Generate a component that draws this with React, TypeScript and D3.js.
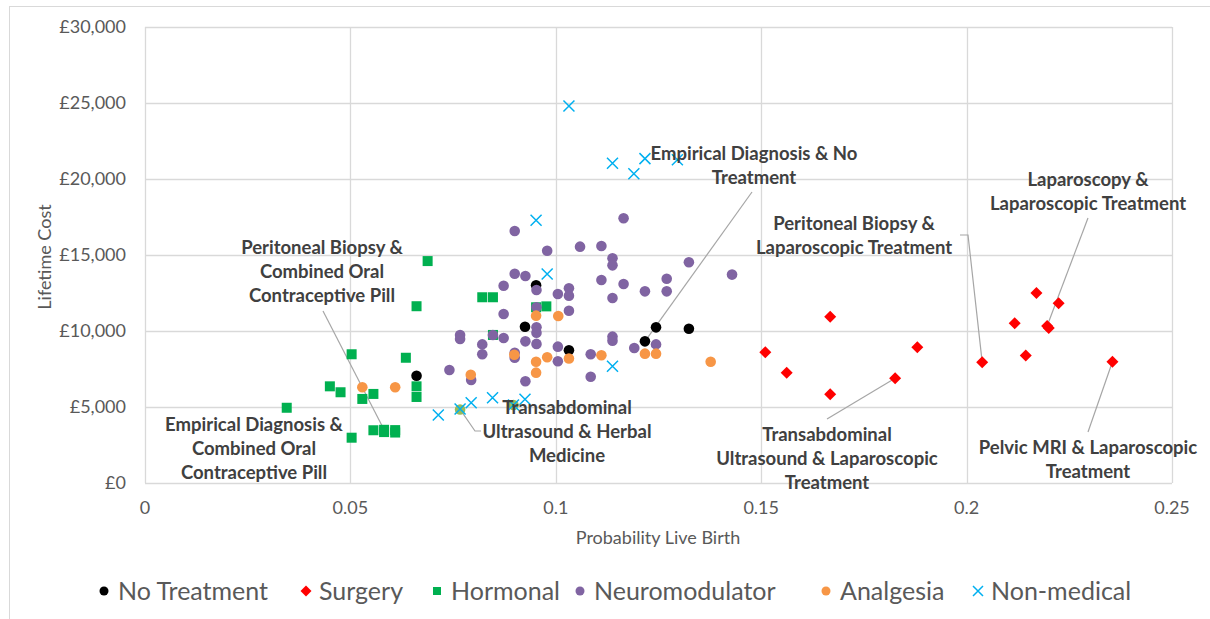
import React from "react";
import * as d3 from "d3";

type Pt = [number, number];

const noTreatment: Pt[] = [
  [0.0661, 7060], [0.0925, 10280], [0.0952, 13010], [0.1032, 8730],
  [0.1217, 9320], [0.1244, 10240], [0.1324, 10150],
];

const surgery: Pt[] = [
  [0.151, 8600], [0.1562, 7260], [0.1668, 10940], [0.1668, 5840],
  [0.1826, 6890], [0.188, 8930], [0.2038, 7940], [0.2117, 10510],
  [0.2144, 8380], [0.217, 12500], [0.2196, 10330], [0.22, 10200],
  [0.2224, 11820], [0.2355, 7980],
];

const hormonal: Pt[] = [
  [0.0345, 4950], [0.045, 6360], [0.0476, 5970], [0.0503, 8470],
  [0.0503, 2980], [0.0529, 5530], [0.0556, 5860], [0.0556, 3470],
  [0.0582, 3500], [0.0582, 3350], [0.0609, 3480], [0.0609, 3320],
  [0.0635, 8240], [0.0661, 6360], [0.0661, 5660], [0.0661, 11630],
  [0.0688, 14600], [0.0821, 12220], [0.0847, 12220], [0.0847, 9740],
  [0.0952, 11560], [0.0977, 11620],
];

const neuromodulator: Pt[] = [
  [0.09, 16580], [0.0979, 15280], [0.09, 13770], [0.0926, 13620],
  [0.0873, 12980], [0.0953, 12700], [0.1005, 12430], [0.1032, 12810],
  [0.1032, 12320], [0.0953, 11560], [0.1032, 11330], [0.0873, 11120],
  [0.0953, 10240], [0.0953, 9890], [0.0767, 9740], [0.0767, 9470],
  [0.0847, 9740], [0.0873, 9540], [0.0821, 9120], [0.0926, 9320],
  [0.0953, 9150], [0.1005, 8970], [0.0821, 8470], [0.09, 8570],
  [0.09, 8240], [0.1005, 8010], [0.0741, 7430], [0.0794, 6780],
  [0.0926, 6690], [0.1165, 17420], [0.1059, 15550], [0.1111, 15590],
  [0.1138, 14780], [0.1138, 14320], [0.1324, 14520], [0.1111, 13360],
  [0.1165, 13090], [0.127, 13440], [0.1217, 12610], [0.127, 12610],
  [0.1138, 12170], [0.1138, 9630], [0.1138, 9360], [0.1191, 8880],
  [0.1244, 9120], [0.1085, 8470], [0.1085, 6990], [0.1429, 13710],
];

const analgesia: Pt[] = [
  [0.0529, 6300], [0.0609, 6300], [0.0793, 7120], [0.0899, 8440],
  [0.0952, 11010], [0.1006, 10990], [0.0952, 7980], [0.0979, 8270],
  [0.0952, 7260], [0.1032, 8190], [0.1111, 8400], [0.1217, 8510],
  [0.1244, 8510], [0.1377, 7980],
];

const highlighted: Pt[] = [
  [0.0767, 4840], [0.0897, 5130],
];

const nonMedical: Pt[] = [
  [0.1032, 24800], [0.0952, 17280], [0.0979, 13750], [0.1138, 21030],
  [0.119, 20350], [0.1217, 21340], [0.1296, 21270], [0.1138, 7680],
  [0.0714, 4470], [0.0767, 4870], [0.0794, 5280], [0.0846, 5610],
  [0.0897, 5130], [0.0925, 5510],
];

const xTicks = [0, 0.05, 0.1, 0.15, 0.2, 0.25];
const yTicks = [0, 5000, 10000, 15000, 20000, 25000, 30000];

const legendNames = ["No Treatment", "Surgery", "Hormonal", "Neuromodulator", "Analgesia", "Non-medical"];

type Ann = {
  lines: string[];
  cx: number;
  y0: number;
  path: Pt[];
  target: Pt | null;
};

const annotations: Ann[] = [
  { lines: ["Peritoneal Biopsy &", "Combined Oral", "Contraceptive Pill"], cx: 322, y0: 248, path: [[323, 311]], target: [0.0582, 3500] },
  { lines: ["Empirical Diagnosis &", "Combined Oral", "Contraceptive Pill"], cx: 254, y0: 425, path: [], target: null },
  { lines: ["Transabdominal", "Ultrasound & Herbal", "Medicine"], cx: 567, y0: 408, path: [[481, 431], [475, 431]], target: [0.0767, 4840] },
  { lines: ["Empirical Diagnosis & No", "Treatment"], cx: 754, y0: 154, path: [[752, 192]], target: [0.1217, 9320] },
  { lines: ["Peritoneal Biopsy &", "Laparoscopic Treatment"], cx: 854, y0: 224, path: [[960, 235], [968, 235]], target: [0.2038, 7940] },
  { lines: ["Laparoscopy &", "Laparoscopic Treatment"], cx: 1088, y0: 180, path: [[1088, 218]], target: [0.2196, 10330] },
  { lines: ["Transabdominal", "Ultrasound & Laparoscopic", "Treatment"], cx: 827, y0: 435, path: [[827, 419]], target: [0.1826, 6890] },
  { lines: ["Pelvic MRI & Laparoscopic", "Treatment"], cx: 1088, y0: 448, path: [[1088, 432]], target: [0.2355, 7980] },
];

const W = 1210;
const H = 619;
const left = 145, right = 1172, top = 27, bottom = 483;

const COLORS = {
  none: "#000000",
  surgery: "#FF0000",
  hormonal: "#00B050",
  neuro: "#8064A2",
  analgesia: "#F79646",
  nonmed: "#00B0F0",
  highlight: "#9BBB59",
};

function Circle({ x, y, c, r = 5.3 }: { x: number; y: number; c: string; r?: number }) {
  return <circle cx={x} cy={y} r={r} fill={c} />;
}
function Square({ x, y, c, s = 10 }: { x: number; y: number; c: string; s?: number }) {
  return <rect x={x - s / 2} y={y - s / 2} width={s} height={s} fill={c} />;
}
function Diamond({ x, y, c, s = 6 }: { x: number; y: number; c: string; s?: number }) {
  return <path d={`M${x},${y - s}L${x + s},${y}L${x},${y + s}L${x - s},${y}Z`} fill={c} />;
}
function Cross({ x, y, c, s = 5.5 }: { x: number; y: number; c: string; s?: number }) {
  return (
    <path d={`M${x - s},${y - s}L${x + s},${y + s}M${x - s},${y + s}L${x + s},${y - s}`} stroke={c} strokeWidth={1.5} fill="none" />
  );
}

export default function App() {
  const x = d3.scaleLinear().domain([0, 0.25]).range([left, right]);
  const y = d3.scaleLinear().domain([0, 30000]).range([bottom, top]);
  const fmtY = (v: number) => "£" + d3.format(",")(v);
  const fmtX = (v: number) => (v === 0 ? "0" : String(v));

  const tickFont = "Lato, 'Open Sans', sans-serif";

  const legendItems = [
    { name: legendNames[0], mx: 104, tx: 118, kind: "circle", c: COLORS.none },
    { name: legendNames[1], mx: 306, tx: 319, kind: "diamond", c: COLORS.surgery },
    { name: legendNames[2], mx: 437, tx: 451, kind: "square", c: COLORS.hormonal },
    { name: legendNames[3], mx: 580, tx: 594, kind: "circle", c: COLORS.neuro },
    { name: legendNames[4], mx: 826, tx: 840, kind: "circle", c: COLORS.analgesia },
    { name: legendNames[5], mx: 978, tx: 991, kind: "cross", c: COLORS.nonmed },
  ];
  const ly = 591;

  return (
    <svg width={W} height={H} style={{ position: "absolute", left: 0, top: 0, background: "#fff" }}>
      <rect x={0} y={0} width={W} height={H} fill="#fff" />
      <rect x={9.5} y={6.5} width={1230} height={660} fill="none" stroke="#D9D9D9" />
      {/* gridlines */}
      {yTicks.map((t) => (
        <line key={"gy" + t} x1={left} x2={right} y1={Math.round(y(t)) + 0.5} y2={Math.round(y(t)) + 0.5} stroke="#D9D9D9" strokeWidth={1.3} />
      ))}
      {xTicks.map((t) => (
        <line key={"gx" + t} x1={Math.round(x(t)) + 0.5} x2={Math.round(x(t)) + 0.5} y1={top} y2={bottom} stroke="#D9D9D9" strokeWidth={1.3} />
      ))}
      {/* tick labels */}
      {yTicks.map((t) => (
        <text key={"ty" + t} x={126} y={y(t)} dy="0.35em" textAnchor="end" fontFamily={tickFont} fontSize={18} fill="#595959">
          {fmtY(t)}
        </text>
      ))}
      {xTicks.map((t) => (
        <text key={"tx" + t} x={x(t)} y={508} dy="0.35em" textAnchor="middle" fontFamily={tickFont} fontSize={18} fill="#595959">
          {fmtX(t)}
        </text>
      ))}
      <text x={658} y={538} dy="0.35em" textAnchor="middle" fontFamily={tickFont} fontSize={18} fill="#595959">
        Probability Live Birth
      </text>
      <text transform="translate(45,257) rotate(-90)" dy="0.35em" textAnchor="middle" fontFamily={tickFont} fontSize={18} fill="#595959">
        Lifetime Cost
      </text>

      {/* leader lines */}
      {annotations.filter((a) => a.target).map((a, i) => {
        const pts: Pt[] = [...a.path, [x(a.target![0]), y(a.target![1])]];
        return <path key={"ll" + i} d={d3.line()(pts) || ""} stroke="#A6A6A6" strokeWidth={1.2} fill="none" />;
      })}

      {/* series */}
      {noTreatment.map((p, i) => <Circle key={"n" + i} x={x(p[0])} y={y(p[1])} c={COLORS.none} />)}
      {surgery.map((p, i) => <Diamond key={"s" + i} x={x(p[0])} y={y(p[1])} c={COLORS.surgery} />)}
      {hormonal.map((p, i) => <Square key={"h" + i} x={x(p[0])} y={y(p[1])} c={COLORS.hormonal} />)}
      {neuromodulator.map((p, i) => <Circle key={"m" + i} x={x(p[0])} y={y(p[1])} c={COLORS.neuro} />)}
      {analgesia.map((p, i) => <Circle key={"a" + i} x={x(p[0])} y={y(p[1])} c={COLORS.analgesia} />)}
      {highlighted.map((p, i) => <Circle key={"o" + i} x={x(p[0])} y={y(p[1])} c={COLORS.highlight} />)}
      {nonMedical.map((p, i) => <Cross key={"x" + i} x={x(p[0])} y={y(p[1])} c={COLORS.nonmed} />)}

      {/* annotation labels */}
      {annotations.map((a, i) => (
        <text key={"an" + i} textAnchor="middle" fontFamily={tickFont} fontWeight="bold" fontSize={18.5} fill="#404040">
          {a.lines.map((l, j) => (
            <tspan key={j} x={a.cx} y={a.y0 + j * 24} dy="0.35em">{l}</tspan>
          ))}
        </text>
      ))}

      {/* legend */}
      {legendItems.map((it) => (
        <g key={it.name}>
          {it.kind === "circle" && <Circle x={it.mx} y={ly} c={it.c} r={4.5} />}
          {it.kind === "square" && <Square x={it.mx} y={ly} c={it.c} s={8} />}
          {it.kind === "diamond" && <Diamond x={it.mx} y={ly} c={it.c} s={5.5} />}
          {it.kind === "cross" && <Cross x={it.mx} y={ly} c={it.c} s={5} />}
          <text x={it.tx} y={ly} dy="0.35em" fontFamily={tickFont} fontSize={25} fill="#595959">
            {it.name}
          </text>
        </g>
      ))}
    </svg>
  );
}
